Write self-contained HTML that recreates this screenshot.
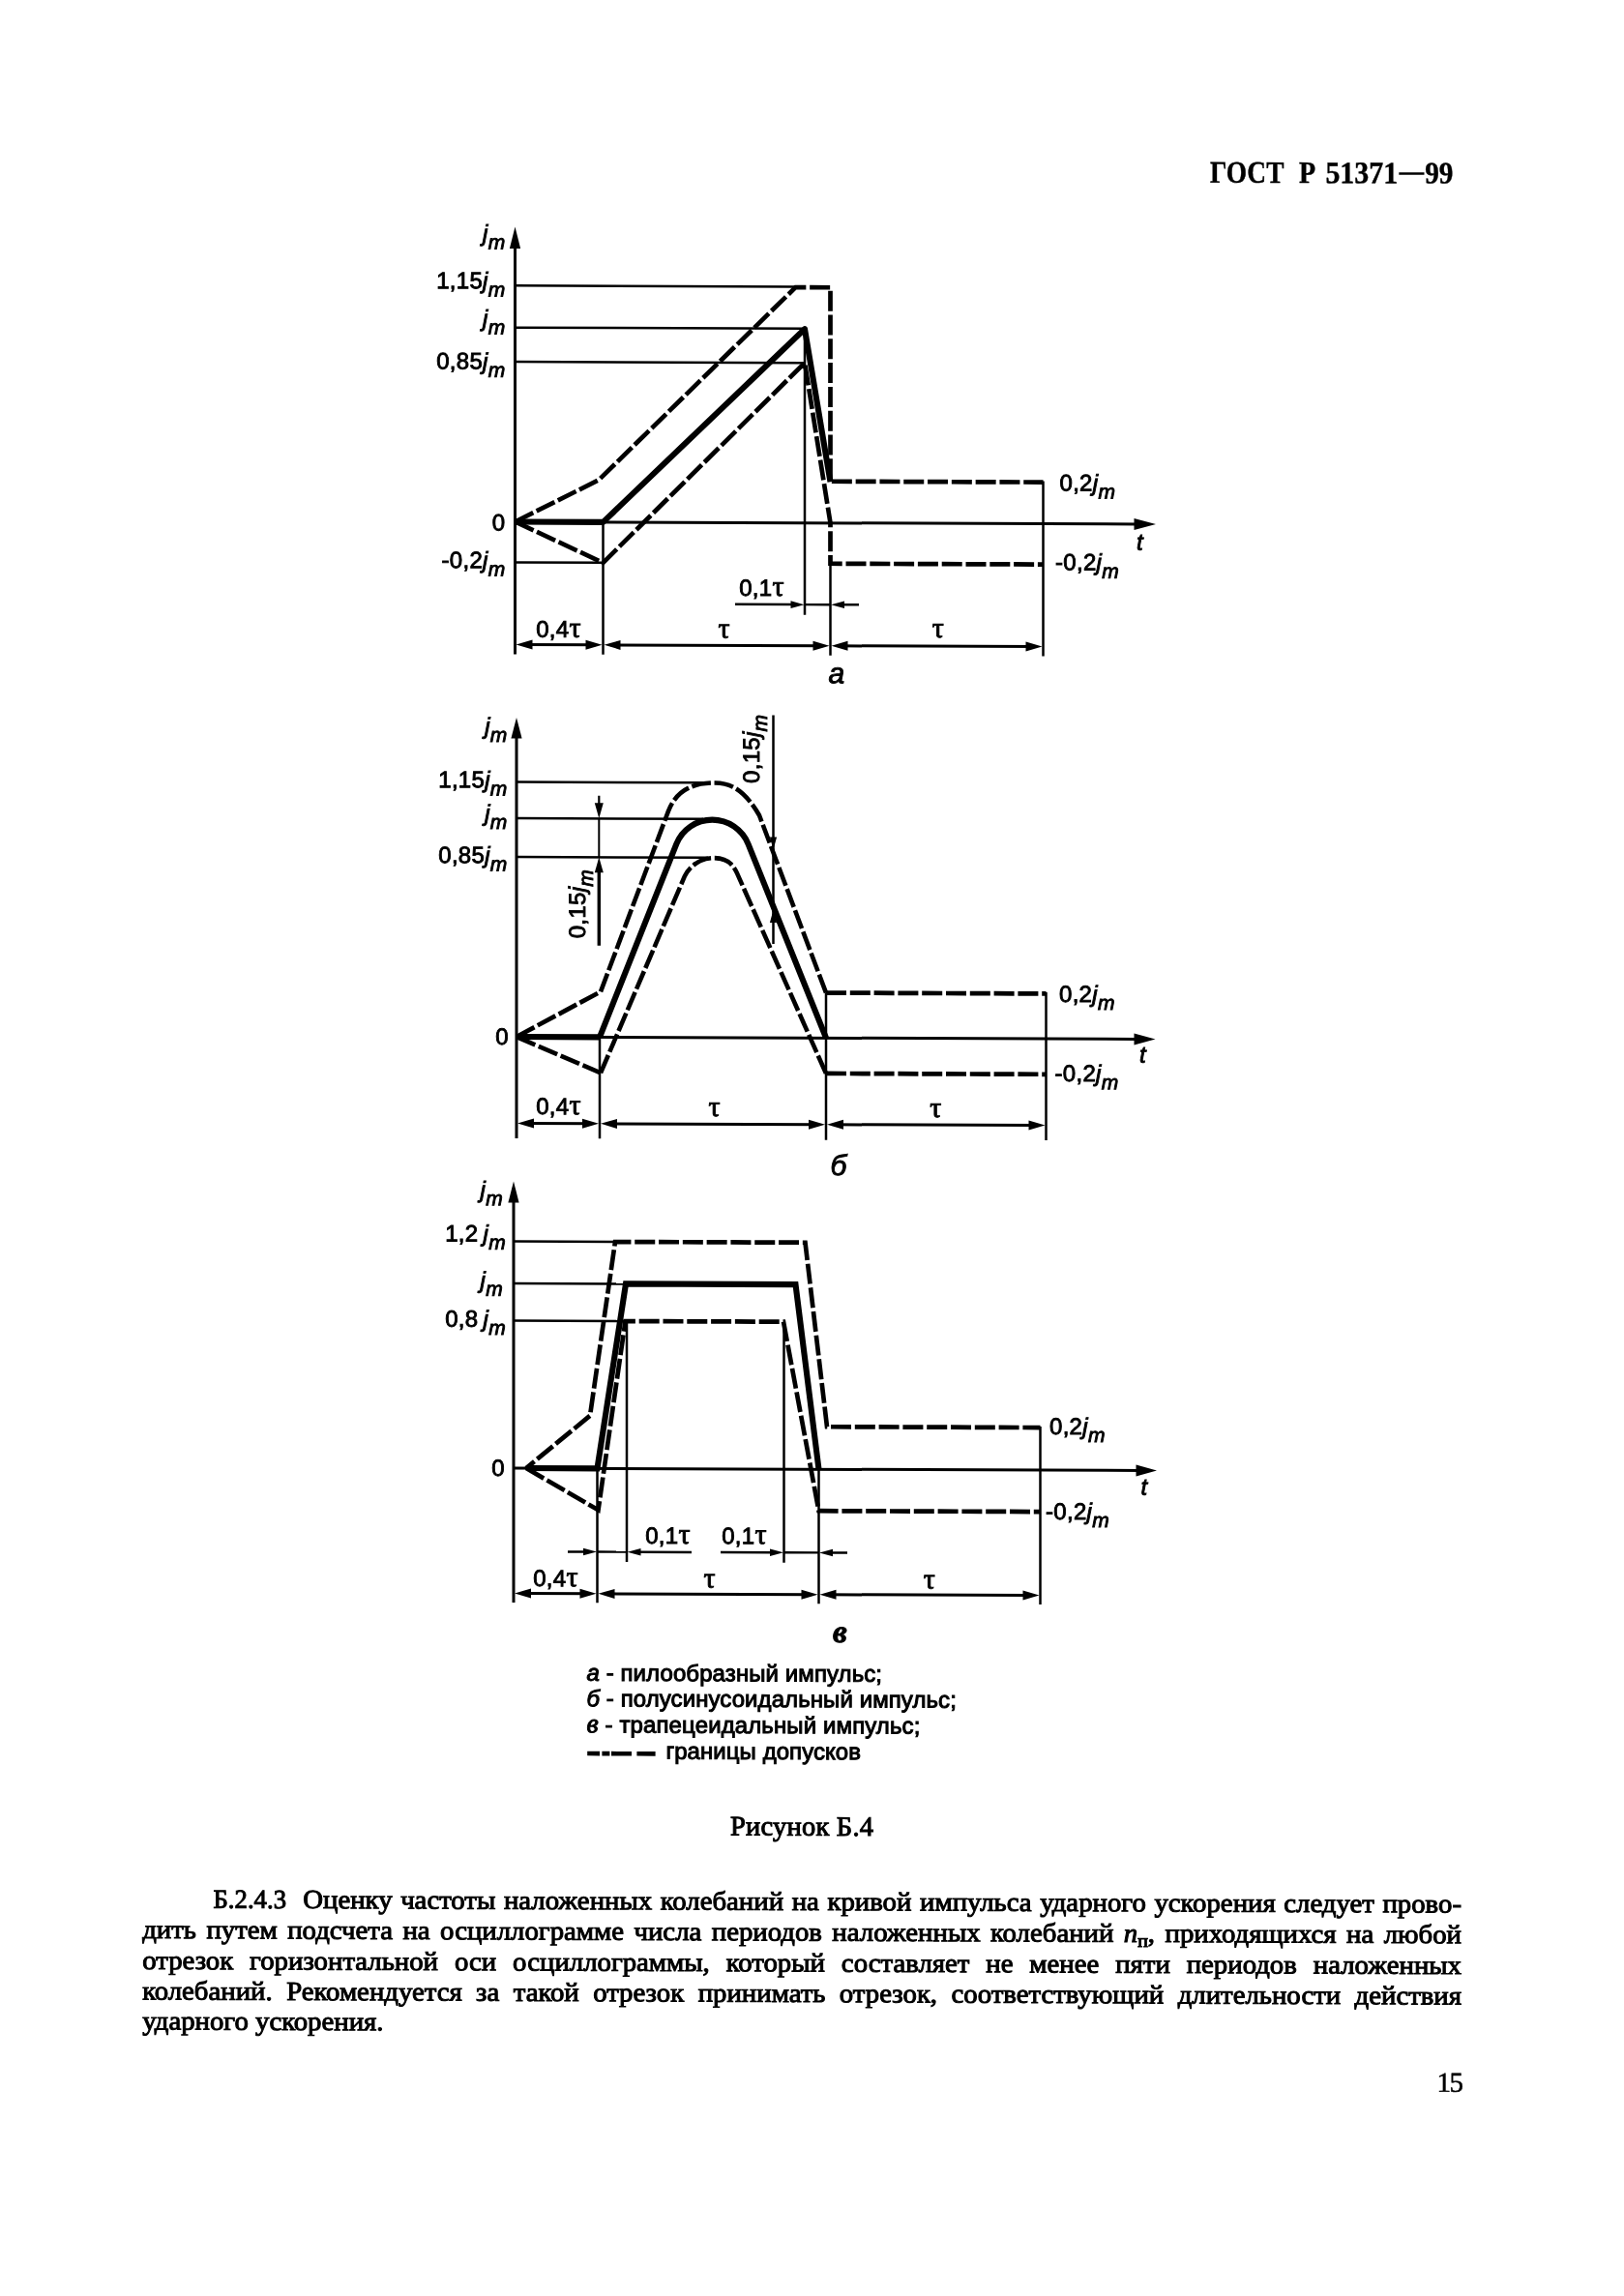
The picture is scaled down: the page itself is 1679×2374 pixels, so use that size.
<!DOCTYPE html>
<html lang="ru"><head><meta charset="utf-8"><title>ГОСТ Р 51371-99</title>
<style>
html,body{margin:0;padding:0;background:#fff;}
body{width:1679px;height:2374px;overflow:hidden;font-family:"Liberation Sans",sans-serif;}
svg{position:absolute;left:0;top:0;display:block;will-change:transform;}
svg text{fill:#000;}
.sf{font-family:"Liberation Serif",serif;}
#g{stroke:#000;}
#g text{stroke:#000;stroke-width:0.9px;letter-spacing:0.3px;}
</style></head><body>
<svg width="1679" height="2374" viewBox="0 0 1679 2374" font-family="Liberation Sans, sans-serif">
<g transform="matrix(1 0.00384 0 1 0 -2.05)">
<g id="g" stroke-linecap="butt">
<line x1="532.5" y1="250" x2="532.5" y2="676.5" stroke-width="3.0"/>
<polygon points="532.5,234.5 526.9,257 538.1,257" stroke="none" fill="#000"/>
<line x1="532.5" y1="539.5" x2="1178" y2="539.5" stroke-width="3.0"/>
<polygon points="1195,539.5 1172.5,533.5 1172.5,545.5" stroke="none" fill="#000"/>
<line x1="532.5" y1="295.3" x2="822" y2="295.3" stroke-width="2.5"/>
<line x1="532.5" y1="338.7" x2="832" y2="338.7" stroke-width="2.5"/>
<line x1="532.5" y1="374" x2="831" y2="374" stroke-width="2.5"/>
<line x1="532.5" y1="581.5" x2="623" y2="581.5" stroke-width="2.5"/>
<line x1="623.5" y1="539.5" x2="623.5" y2="676.5" stroke-width="2.5"/>
<line x1="832" y1="340" x2="832" y2="634.5" stroke-width="2.5"/>
<line x1="858.5" y1="581" x2="858.5" y2="676.5" stroke-width="2.5"/>
<line x1="1078.5" y1="495.5" x2="1078.5" y2="676.5" stroke-width="2.5"/>
<path d="M532.5,539.5 L619,496 L822.5,296 L858.5,296 L858.5,496.5 L1078.5,496.5" fill="none" stroke-width="4.7" stroke-linejoin="miter" stroke-dasharray="21 3.8"/>
<path d="M532.5,539.5 L623.5,581.5 L832,374 L858.5,539.5 L858.5,581.5 L1078.5,581.5" fill="none" stroke-width="4.7" stroke-linejoin="miter" stroke-dasharray="21 3.8"/>
<path d="M532.5,539.5 L623.5,539.5 L832,339 L858.5,497" fill="none" stroke-width="6.1" stroke-linejoin="round"/>
<line x1="540.5" y1="666.5" x2="615.5" y2="666.5" stroke-width="3.0"/>
<polygon points="533.5,666.5 550.5,661.5 550.5,671.5" stroke="none" fill="#000"/>
<polygon points="622.5,666.5 605.5,661.5 605.5,671.5" stroke="none" fill="#000"/>
<line x1="631.5" y1="666.5" x2="850.5" y2="666.5" stroke-width="3.0"/>
<polygon points="624.5,666.5 641.5,661.5 641.5,671.5" stroke="none" fill="#000"/>
<polygon points="857.5,666.5 840.5,661.5 840.5,671.5" stroke="none" fill="#000"/>
<line x1="866.5" y1="666.5" x2="1070.5" y2="666.5" stroke-width="3.0"/>
<polygon points="859.5,666.5 876.5,661.5 876.5,671.5" stroke="none" fill="#000"/>
<polygon points="1077.5,666.5 1060.5,661.5 1060.5,671.5" stroke="none" fill="#000"/>
<line x1="760" y1="624" x2="820" y2="624" stroke-width="2.5"/>
<polygon points="831.5,624 817.5,620.2 817.5,627.8" stroke="none" fill="#000"/>
<line x1="832" y1="624" x2="858.5" y2="624" stroke-width="2.4"/>
<polygon points="859,624 873,620.2 873,627.8" stroke="none" fill="#000"/>
<line x1="870" y1="624" x2="888" y2="624" stroke-width="2.5"/>
<text x="522.5" y="249.5" font-size="24" text-anchor="end"><tspan font-style="italic">j</tspan><tspan font-style="italic" font-size="21" dy="8">m</tspan></text>
<text x="522.5" y="298.5" font-size="24" text-anchor="end">1,15<tspan font-style="italic">j</tspan><tspan font-style="italic" font-size="21" dy="8">m</tspan></text>
<text x="522.5" y="337.5" font-size="24" text-anchor="end"><tspan font-style="italic">j</tspan><tspan font-style="italic" font-size="21" dy="8">m</tspan></text>
<text x="522.5" y="381.8" font-size="24" text-anchor="end">0,85<tspan font-style="italic">j</tspan><tspan font-style="italic" font-size="21" dy="8">m</tspan></text>
<text x="522.5" y="548.5" font-size="24" text-anchor="end">0</text>
<text x="522.5" y="587.5" font-size="24" text-anchor="end">-0,2<tspan font-style="italic">j</tspan><tspan font-style="italic" font-size="21" dy="8">m</tspan></text>
<text x="1095.5" y="505.32" font-size="24" text-anchor="start">0,2<tspan font-style="italic">j</tspan><tspan font-style="italic" font-size="21" dy="8">m</tspan></text>
<text x="1091" y="587.32" font-size="24" text-anchor="start">-0,2<tspan font-style="italic">j</tspan><tspan font-style="italic" font-size="21" dy="8">m</tspan></text>
<text x="1175" y="566.02" font-size="24" text-anchor="start" font-style="italic">t</text>
<text x="577.5" y="658.6" font-size="24" text-anchor="middle">0,4<tspan class="sf" font-size="30">τ</tspan></text>
<text x="748.75" y="658.67" font-size="24" text-anchor="middle"><tspan class="sf" font-size="30">τ</tspan></text>
<text x="970" y="657.32" font-size="24" text-anchor="middle"><tspan class="sf" font-size="30">τ</tspan></text>
<text x="787.5" y="615.02" font-size="24" text-anchor="middle">0,1<tspan class="sf" font-size="30">τ</tspan></text>
<text x="865" y="704.98" font-size="30" text-anchor="middle" font-style="italic">a</text>
<line x1="534" y1="758" x2="534" y2="1177" stroke-width="3.0"/>
<polygon points="534,742 528.4,763.5 539.6,763.5" stroke="none" fill="#000"/>
<line x1="534" y1="1072" x2="1178" y2="1072" stroke-width="3.0"/>
<polygon points="1194.5,1072 1172.5,1066 1172.5,1078" stroke="none" fill="#000"/>
<line x1="534" y1="808.5" x2="732" y2="808.5" stroke-width="2.5"/>
<line x1="534" y1="846" x2="727" y2="846" stroke-width="2.5"/>
<line x1="534" y1="886" x2="732" y2="886" stroke-width="2.5"/>
<line x1="620" y1="1072" x2="620" y2="1177" stroke-width="2.5"/>
<line x1="854" y1="1025" x2="854" y2="1177.5" stroke-width="2.5"/>
<line x1="1081.5" y1="1024" x2="1081.5" y2="1177" stroke-width="2.5"/>
<path d="M534,1072 L621,1025" fill="none" stroke-width="4.7" stroke-linejoin="round" stroke-dasharray="21 3.8"/>
<path d="M621,1025 L691,838 C700,815 718,808.7 739.5,808.7 C759,808.7 772,820 785,842 L854,1025.3" fill="none" stroke-width="4.6" stroke-linejoin="round" stroke-dasharray="20 3.6"/>
<path d="M854,1025.3 L1081.5,1025.3" fill="none" stroke-width="4.7" stroke-linejoin="round" stroke-dasharray="21 3.8"/>
<path d="M534,1072 L621,1109" fill="none" stroke-width="4.7" stroke-linejoin="round" stroke-dasharray="21 3.8"/>
<path d="M621,1109 L708,905 C713,895 724,886.3 738,886.3 C750,886.3 757,891 762,902 L854,1108.7" fill="none" stroke-width="4.6" stroke-linejoin="round" stroke-dasharray="20 3.6"/>
<path d="M854,1108.7 L1081.5,1108.7" fill="none" stroke-width="4.7" stroke-linejoin="round" stroke-dasharray="21 3.8"/>
<path d="M534,1072 L620,1072" fill="none" stroke-width="6.1" stroke-linejoin="round"/>
<path d="M620,1072 L699.32,872.05 A40.0,40.0 0 0 1 773.62,871.89 L854,1072" fill="none" stroke-width="6.1" stroke-linejoin="miter"/>
<line x1="619.3" y1="822.5" x2="619.3" y2="834" stroke-width="2.2"/>
<polygon points="619.3,846 614.8,830 623.8,830" stroke="none" fill="#000"/>
<line x1="619.3" y1="846" x2="619.3" y2="886" stroke-width="2.0"/>
<polygon points="619.3,886 614.8,902 623.8,902" stroke="none" fill="#000"/>
<line x1="619.3" y1="900" x2="619.3" y2="977.5" stroke-width="3.4"/>
<text transform="translate(605,970) rotate(-90)" font-size="24" text-anchor="start">0,15<tspan font-style="italic">j</tspan><tspan font-style="italic" font-size="21" dy="8">m</tspan></text>
<line x1="799.5" y1="738.5" x2="799.5" y2="975" stroke-width="2.5"/>
<polygon points="799.5,877.5 795.9,864.5 803.1,864.5" stroke="none" fill="#000"/>
<polygon points="799.5,940 795.9,953 803.1,953" stroke="none" fill="#000"/>
<text transform="translate(785,809) rotate(-90)" font-size="24" text-anchor="start">0,15<tspan font-style="italic">j</tspan><tspan font-style="italic" font-size="21" dy="8">m</tspan></text>
<line x1="542" y1="1161.5" x2="612" y2="1161.5" stroke-width="3.0"/>
<polygon points="535,1161.5 552,1156.5 552,1166.5" stroke="none" fill="#000"/>
<polygon points="619,1161.5 602,1156.5 602,1166.5" stroke="none" fill="#000"/>
<line x1="628" y1="1161.5" x2="846" y2="1161.5" stroke-width="3.0"/>
<polygon points="621,1161.5 638,1156.5 638,1166.5" stroke="none" fill="#000"/>
<polygon points="853,1161.5 836,1156.5 836,1166.5" stroke="none" fill="#000"/>
<line x1="862" y1="1161.5" x2="1073.5" y2="1161.5" stroke-width="3.0"/>
<polygon points="855,1161.5 872,1156.5 872,1166.5" stroke="none" fill="#000"/>
<polygon points="1080.5,1161.5 1063.5,1156.5 1063.5,1166.5" stroke="none" fill="#000"/>
<text x="524.6" y="759" font-size="24" text-anchor="end"><tspan font-style="italic">j</tspan><tspan font-style="italic" font-size="21" dy="8">m</tspan></text>
<text x="524.6" y="814.5" font-size="24" text-anchor="end">1,15<tspan font-style="italic">j</tspan><tspan font-style="italic" font-size="21" dy="8">m</tspan></text>
<text x="524.6" y="849" font-size="24" text-anchor="end"><tspan font-style="italic">j</tspan><tspan font-style="italic" font-size="21" dy="8">m</tspan></text>
<text x="524.6" y="892.5" font-size="24" text-anchor="end">0,85<tspan font-style="italic">j</tspan><tspan font-style="italic" font-size="21" dy="8">m</tspan></text>
<text x="526" y="1080" font-size="24" text-anchor="end">0</text>
<text x="577.5" y="1152" font-size="24" text-anchor="middle">0,4<tspan class="sf" font-size="30">τ</tspan></text>
<text x="738.75" y="1153.21" font-size="24" text-anchor="middle"><tspan class="sf" font-size="30">τ</tspan></text>
<text x="967.5" y="1153.33" font-size="24" text-anchor="middle"><tspan class="sf" font-size="30">τ</tspan></text>
<text x="1095" y="1033.82" font-size="24" text-anchor="start">0,2<tspan font-style="italic">j</tspan><tspan font-style="italic" font-size="21" dy="8">m</tspan></text>
<text x="1090.5" y="1115.82" font-size="24" text-anchor="start">-0,2<tspan font-style="italic">j</tspan><tspan font-style="italic" font-size="21" dy="8">m</tspan></text>
<text x="1178" y="1096.01" font-size="24" text-anchor="start" font-style="italic">t</text>
<text x="867" y="1213.72" font-size="30" text-anchor="middle" font-style="italic">б</text>
<line x1="531" y1="1238" x2="531" y2="1657" stroke-width="3.0"/>
<polygon points="531,1221.5 525.4,1243.5 536.6,1243.5" stroke="none" fill="#000"/>
<line x1="531" y1="1518" x2="1180" y2="1518" stroke-width="3.0"/>
<polygon points="1196,1518 1174.5,1512 1174.5,1524" stroke="none" fill="#000"/>
<line x1="531" y1="1283.6" x2="636" y2="1283.6" stroke-width="2.5"/>
<line x1="531" y1="1327" x2="646" y2="1327" stroke-width="2.5"/>
<line x1="531" y1="1365.6" x2="645" y2="1365.6" stroke-width="2.5"/>
<line x1="617.5" y1="1518" x2="617.5" y2="1657" stroke-width="2.5"/>
<line x1="648" y1="1366" x2="648" y2="1614.6" stroke-width="2.5"/>
<line x1="810.5" y1="1366" x2="810.5" y2="1614.6" stroke-width="2.5"/>
<line x1="846.5" y1="1518" x2="846.5" y2="1657" stroke-width="2.5"/>
<line x1="1075.5" y1="1473" x2="1075.5" y2="1657" stroke-width="2.5"/>
<path d="M544,1518 L610,1463.5 L636,1283.6 L832.5,1283.6 L855,1474 L1075.5,1474" fill="none" stroke-width="4.7" stroke-linejoin="miter" stroke-dasharray="21 3.8" stroke-dashoffset="10"/>
<path d="M544,1518 L618.5,1561 L646.5,1365.6 L810,1365.6 L846.5,1561 L1075.5,1561" fill="none" stroke-width="4.7" stroke-linejoin="miter" stroke-dasharray="21 3.8"/>
<path d="M545,1518 L617.5,1518 L647,1327 L822.5,1327 L846.5,1518" fill="none" stroke-width="6.1" stroke-linejoin="miter"/>
<line x1="539" y1="1647.5" x2="609.5" y2="1647.5" stroke-width="3.0"/>
<polygon points="532,1647.5 549,1642.5 549,1652.5" stroke="none" fill="#000"/>
<polygon points="616.5,1647.5 599.5,1642.5 599.5,1652.5" stroke="none" fill="#000"/>
<line x1="625.5" y1="1647.5" x2="838.5" y2="1647.5" stroke-width="3.0"/>
<polygon points="618.5,1647.5 635.5,1642.5 635.5,1652.5" stroke="none" fill="#000"/>
<polygon points="845.5,1647.5 828.5,1642.5 828.5,1652.5" stroke="none" fill="#000"/>
<line x1="854.5" y1="1647.5" x2="1067.5" y2="1647.5" stroke-width="3.0"/>
<polygon points="847.5,1647.5 864.5,1642.5 864.5,1652.5" stroke="none" fill="#000"/>
<polygon points="1074.5,1647.5 1057.5,1642.5 1057.5,1652.5" stroke="none" fill="#000"/>
<line x1="587" y1="1604.2" x2="606" y2="1604.2" stroke-width="2.5"/>
<polygon points="617,1604.2 603,1600.4 603,1608" stroke="none" fill="#000"/>
<line x1="617.5" y1="1604.2" x2="648" y2="1604.2" stroke-width="2.4"/>
<polygon points="648.5,1604.2 662.5,1600.4 662.5,1608" stroke="none" fill="#000"/>
<line x1="660" y1="1604.2" x2="715" y2="1604.2" stroke-width="2.5"/>
<line x1="745" y1="1604.2" x2="798" y2="1604.2" stroke-width="2.5"/>
<polygon points="810,1604.2 796,1600.4 796,1608" stroke="none" fill="#000"/>
<line x1="810.5" y1="1604.2" x2="846.5" y2="1604.2" stroke-width="2.4"/>
<polygon points="847,1604.2 861,1600.4 861,1608" stroke="none" fill="#000"/>
<line x1="858" y1="1604.2" x2="876" y2="1604.2" stroke-width="2.5"/>
<text x="520" y="1238.5" font-size="24" text-anchor="end"><tspan font-style="italic">j</tspan><tspan font-style="italic" font-size="21" dy="8">m</tspan></text>
<text x="523" y="1283.75" font-size="24" text-anchor="end">1,2 <tspan font-style="italic">j</tspan><tspan font-style="italic" font-size="21" dy="8">m</tspan></text>
<text x="520" y="1332" font-size="24" text-anchor="end"><tspan font-style="italic">j</tspan><tspan font-style="italic" font-size="21" dy="8">m</tspan></text>
<text x="523" y="1372" font-size="24" text-anchor="end">0,8 <tspan font-style="italic">j</tspan><tspan font-style="italic" font-size="21" dy="8">m</tspan></text>
<text x="522" y="1526" font-size="24" text-anchor="end">0</text>
<text x="574.5" y="1640" font-size="24" text-anchor="middle">0,4<tspan class="sf" font-size="30">τ</tspan></text>
<text x="733.75" y="1640.73" font-size="24" text-anchor="middle"><tspan class="sf" font-size="30">τ</tspan></text>
<text x="961" y="1640.86" font-size="24" text-anchor="middle"><tspan class="sf" font-size="30">τ</tspan></text>
<text x="690.5" y="1595.4" font-size="24" text-anchor="middle">0,1<tspan class="sf" font-size="30">τ</tspan></text>
<text x="769.5" y="1595.39" font-size="24" text-anchor="middle">0,1<tspan class="sf" font-size="30">τ</tspan></text>
<text x="1085" y="1480.82" font-size="24" text-anchor="start">0,2<tspan font-style="italic">j</tspan><tspan font-style="italic" font-size="21" dy="8">m</tspan></text>
<text x="1081" y="1568.82" font-size="24" text-anchor="start">-0,2<tspan font-style="italic">j</tspan><tspan font-style="italic" font-size="21" dy="8">m</tspan></text>
<text x="1179.5" y="1543" font-size="24" text-anchor="start" font-style="italic">t</text>
<text x="868.5" y="1696.71" font-size="33" text-anchor="middle" font-style="italic" font-weight="bold" class="sf" stroke-width="0.3">в</text>
<path d="M607.2,1812.79 H620 M622.4,1812.79 H630.4 M632,1812.79 H653 M658.4,1812.79 H677.6" fill="none" stroke-width="4.6"/>
</g>
<g id="t" stroke="#000" stroke-width="1.0">
<text x="220.5" y="1973.89" class="sf" font-size="27.5" textLength="75.5" lengthAdjust="spacingAndGlyphs">Б.2.4.3</text>
<text id="p0" transform="translate(313.2,1973.89) scale(1.047,1)" x="0" y="0" class="sf" font-size="27.5" word-spacing="1.353">Оценку частоты наложенных колебаний на кривой импульса ударного ускорения следует прово-</text>
<text id="p1" transform="translate(147.2,2005.49) scale(1.047,1)" x="0" y="0" class="sf" font-size="27.5" word-spacing="3.121">дить путем подсчета на осциллограмме числа периодов наложенных колебаний <tspan font-style="italic">n</tspan><tspan font-size="19" dy="5">п</tspan><tspan dy="-5">, приходящихся на любой</tspan></text>
<text id="p2" transform="translate(147.2,2037.39) scale(1.047,1)" x="0" y="0" class="sf" font-size="27.5" word-spacing="9.269">отрезок горизонтальной оси осциллограммы, который составляет не менее пяти периодов наложенных</text>
<text id="p3" transform="translate(147.2,2068.89) scale(1.047,1)" x="0" y="0" class="sf" font-size="27.5" word-spacing="6.934">колебаний. Рекомендуется за такой отрезок принимать отрезок, соответствующий длительности действия</text>
<text id="p4" transform="translate(147.2,2099.89) scale(1.047,1)" x="0" y="0" class="sf" font-size="27.5" word-spacing="0">ударного ускорения.</text>
<text id="l0" x="606.5" y="1737.47" font-size="24" letter-spacing="0.089" stroke-width="1.0"><tspan font-style="italic">а</tspan> - пилообразный импульс;</text>
<text id="l1" x="606.5" y="1763.97" font-size="24" letter-spacing="0.084" stroke-width="1.0"><tspan font-style="italic">б</tspan> - полусинусоидальный импульс;</text>
<text id="l2" x="606.5" y="1791.07" font-size="24" letter-spacing="0.117" stroke-width="1.0"><tspan font-style="italic" class="sf" font-size="28">в</tspan> - трапецеидальный импульс;</text>
<text id="l3" x="688.4" y="1818.01" font-size="24" letter-spacing="0.059" stroke-width="1.0">границы допусков</text>
<text id="cap" x="755" y="1896.66" class="sf" font-size="28.5" letter-spacing="0.216">Рисунок Б.4</text>
<text x="1251" y="185.96" class="sf" font-weight="bold" font-size="32" textLength="76.4" lengthAdjust="spacingAndGlyphs" stroke-width="0.4">ГОСТ</text>
<text x="1343" y="185.96" class="sf" font-weight="bold" font-size="32" textLength="17.2" lengthAdjust="spacingAndGlyphs" stroke-width="0.4">Р</text>
<text x="1370.4" y="185.96" class="sf" font-weight="bold" font-size="32" textLength="74.8" lengthAdjust="spacingAndGlyphs" stroke-width="0.4">51371</text>
<text x="1473.2" y="185.96" class="sf" font-weight="bold" font-size="32" textLength="29.3" lengthAdjust="spacingAndGlyphs" stroke-width="0.4">99</text>
<rect x="1446.3" y="174.66" width="26.2" height="2.6" fill="#000" stroke="none"/>
<text id="pn" x="1511.5" y="2159.09" class="sf" font-size="29" text-anchor="end" letter-spacing="-1.5" stroke-width="0.5">15</text>
</g>
</g>
</svg>
</body></html>
